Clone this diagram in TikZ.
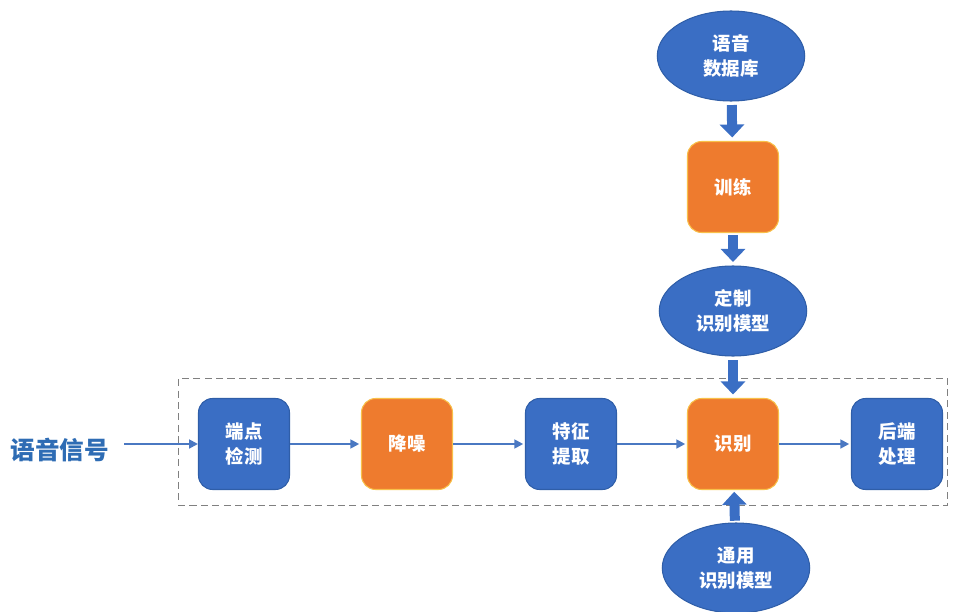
\documentclass[tikz,border=0pt]{standalone}
\usepackage{fontspec}
\setmainfont{Noto Sans CJK SC}
\usetikzlibrary{arrows.meta,positioning,shapes.geometric}
\definecolor{boxblue}{HTML}{3A6EC4}
\definecolor{edgeblue}{HTML}{2F5EA8}
\definecolor{boxorange}{HTML}{EE7B2E}
\definecolor{rimorange}{HTML}{F8C04A}
\definecolor{lineblue}{HTML}{4A78C2}
\definecolor{textblue}{HTML}{2E6CB4}

\begin{document}
\begin{tikzpicture}[x=0.02cm,y=-0.02cm]
  \tikzstyle{bbox}=[rectangle,rounded corners=8pt,fill=boxblue,draw=edgeblue,line width=0.6pt,
                    minimum width=1.82cm,minimum height=1.82cm,text=white,align=center,
                    font=\bfseries\fontsize{10.5}{14}\selectfont]
  \tikzstyle{obox}=[bbox,fill=boxorange,draw=rimorange]
  \tikzstyle{oval}=[ellipse,fill=boxblue,draw=edgeblue,line width=0.6pt,inner sep=0pt,
                    minimum width=2.95cm,minimum height=1.8cm,text=white,align=center,
                    font=\bfseries\fontsize{10.5}{14}\selectfont]
  \tikzstyle{thin}=[-{Triangle[width=5pt,length=5pt]},draw=lineblue,line width=1.1pt]
  \tikzstyle{fat}=[-{Triangle[width=0.48cm,length=0.26cm]},draw=boxblue,line width=0.2cm]
  \useasboundingbox (0,0) rectangle (958,612);

  % column above and below
  \node[oval] (db) at (731,56) {语音\\数据库};
  \node[obox] (train) at (733,187) {训练};
  \node[oval] (custom) at (733,311) {定制\\识别模型};
  \node[oval] (general) at (736,568) {通用\\识别模型};

  % dashed stage frame
  \node[draw=gray,dashed,dash pattern=on 4pt off 2.5pt,line width=0.6pt,
        minimum width=15.4cm,minimum height=2.54cm] (stage) at (563,442) {};

  % processing row
  \foreach \name/\x/\kind/\text in {ep/244/bbox/{端点\\检测}, nr/407/obox/{降噪},
                                    fe/571/bbox/{特征\\提取}, rec/733/obox/{识别},
                                    post/897/bbox/{后端\\处理}}
    \node[\kind] (\name) at (\x,444) {\text};

  \node[text=textblue,font=\bfseries\fontsize{14}{16}\selectfont] (sig) at (60,450) {语音信号};

  \draw[thin,shorten <=5pt] (sig.east |- ep) -- (ep);
  \foreach \from/\to in {ep/nr,nr/fe,fe/rec,rec/post}
    { \draw[thin,shorten >=1pt] (\from) -- (\to); }

  \draw[fat,shorten <=2pt,shorten >=2pt] (db) -- (train);
  \draw[fat,shorten <=1pt,shorten >=2pt] (train) -- (custom);
  \draw[fat,shorten <=2pt,shorten >=2pt] (custom) -- (rec);
  \draw[fat,shorten <=1pt,shorten >=1pt] (general) -- (rec);
\end{tikzpicture}
\end{document}
